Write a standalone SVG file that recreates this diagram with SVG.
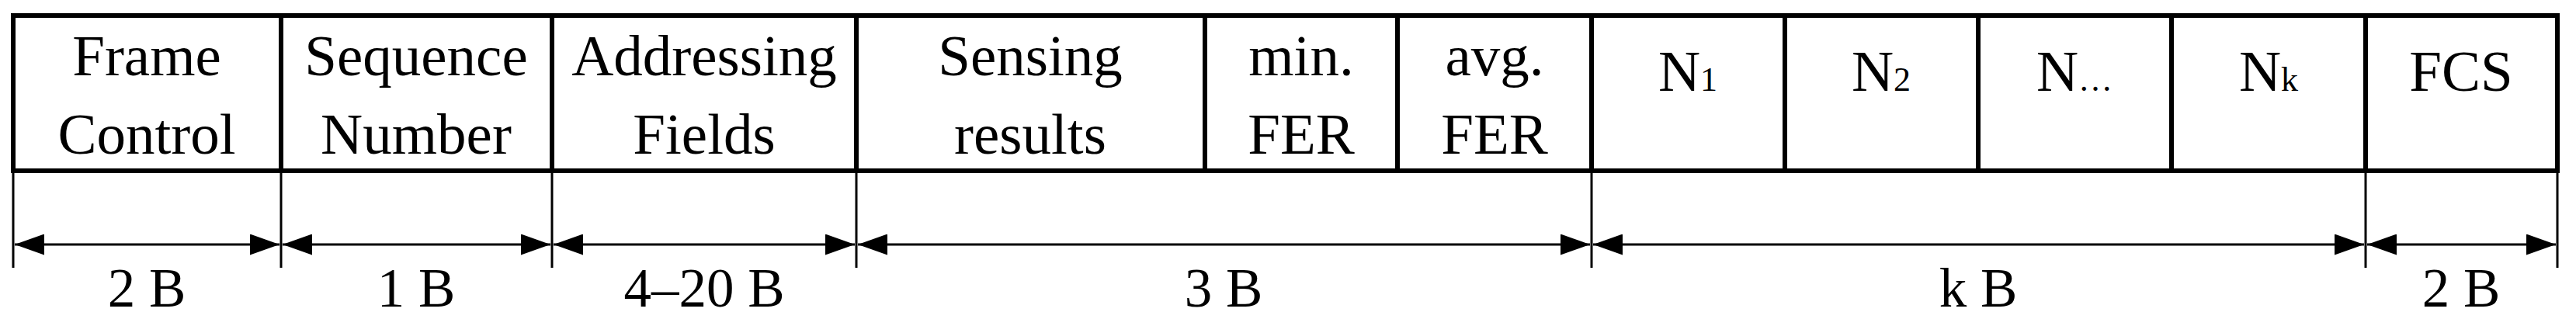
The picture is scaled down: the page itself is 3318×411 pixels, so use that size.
<svg xmlns="http://www.w3.org/2000/svg" width="3318" height="411" viewBox="0 0 3318 411">
<style>
.cell{fill:none;stroke:#000;stroke-width:6}
.div{stroke:#000;stroke-width:6}
.tick{stroke:#000;stroke-width:3}
.dim{stroke:#000;stroke-width:3;fill:none;marker-start:url(#ah);marker-end:url(#ah)}
text{font-family:"Liberation Serif","Times New Roman",serif;font-size:75px;fill:#000;text-anchor:middle}
.sub{font-size:44px}
.lbl{font-size:71px}
</style>
<defs>
<marker id="ah" markerUnits="userSpaceOnUse" viewBox="0 0 38 27" refX="38" refY="13.5" markerWidth="38" markerHeight="27" orient="auto-start-reverse">
<path d="M0,0 L38,13.5 L0,27 Z" fill="#000"/>
</marker>
</defs>
<rect width="3318" height="411" fill="#fff"/>
<g id="frame">
<rect class="cell" x="17" y="20" width="3277" height="200"/>
</g>
<g id="f-frame-control"><text x="189" y="97">Frame</text><text x="189" y="198">Control</text></g>
<g id="f-sequence"><line class="div" x1="362" y1="20" x2="362" y2="220"/><text x="536" y="97">Sequence</text><text x="536" y="198">Number</text></g>
<g id="f-addressing"><line class="div" x1="711" y1="20" x2="711" y2="220"/><text x="907" y="97">Addressing</text><text x="907" y="198">Fields</text></g>
<g id="f-sensing"><line class="div" x1="1103" y1="20" x2="1103" y2="220"/><text x="1327" y="97">Sensing</text><text x="1327" y="198">results</text></g>
<g id="f-min"><line class="div" x1="1552" y1="20" x2="1552" y2="220"/><text x="1676" y="97">min.</text><text x="1676" y="198">FER</text></g>
<g id="f-avg"><line class="div" x1="1800" y1="20" x2="1800" y2="220"/><text x="1925" y="97">avg.</text><text x="1925" y="198">FER</text></g>
<g id="f-n1"><line class="div" x1="2050" y1="20" x2="2050" y2="220"/><text x="2174" y="117">N<tspan class="sub">1</tspan></text></g>
<g id="f-n2"><line class="div" x1="2299" y1="20" x2="2299" y2="220"/><text x="2423" y="117">N<tspan class="sub">2</tspan></text></g>
<g id="f-ndots"><line class="div" x1="2548" y1="20" x2="2548" y2="220"/><text x="2672" y="117">N<tspan class="sub">…</tspan></text></g>
<g id="f-nk"><line class="div" x1="2797" y1="20" x2="2797" y2="220"/><text x="2922" y="117">N<tspan class="sub">k</tspan></text></g>
<g id="f-fcs"><line class="div" x1="3047" y1="20" x2="3047" y2="220"/><text x="3170" y="117">FCS</text></g>
<g id="connectors">
<line class="tick" x1="17" y1="220" x2="17" y2="345"/>
<line class="tick" x1="362" y1="220" x2="362" y2="345"/>
<line class="tick" x1="711" y1="220" x2="711" y2="345"/>
<line class="tick" x1="1103" y1="220" x2="1103" y2="345"/>
<line class="tick" x1="2050" y1="220" x2="2050" y2="345"/>
<line class="tick" x1="3047" y1="220" x2="3047" y2="345"/>
<line class="tick" x1="3294" y1="220" x2="3294" y2="345"/>
<line class="dim" x1="19" y1="315" x2="360" y2="315"/>
<line class="dim" x1="364" y1="315" x2="709" y2="315"/>
<line class="dim" x1="713" y1="315" x2="1101" y2="315"/>
<line class="dim" x1="1105" y1="315" x2="2048" y2="315"/>
<line class="dim" x1="2052" y1="315" x2="3045" y2="315"/>
<line class="dim" x1="3049" y1="315" x2="3292" y2="315"/>
</g>
<g id="labels">
<text class="lbl" x="189" y="395">2 B</text>
<text class="lbl" x="536" y="395">1 B</text>
<text class="lbl" x="907" y="395">4–20 B</text>
<text class="lbl" x="1576" y="395">3 B</text>
<text class="lbl" x="2548" y="395">k B</text>
<text class="lbl" x="3170" y="395">2 B</text>
</g>
</svg>
